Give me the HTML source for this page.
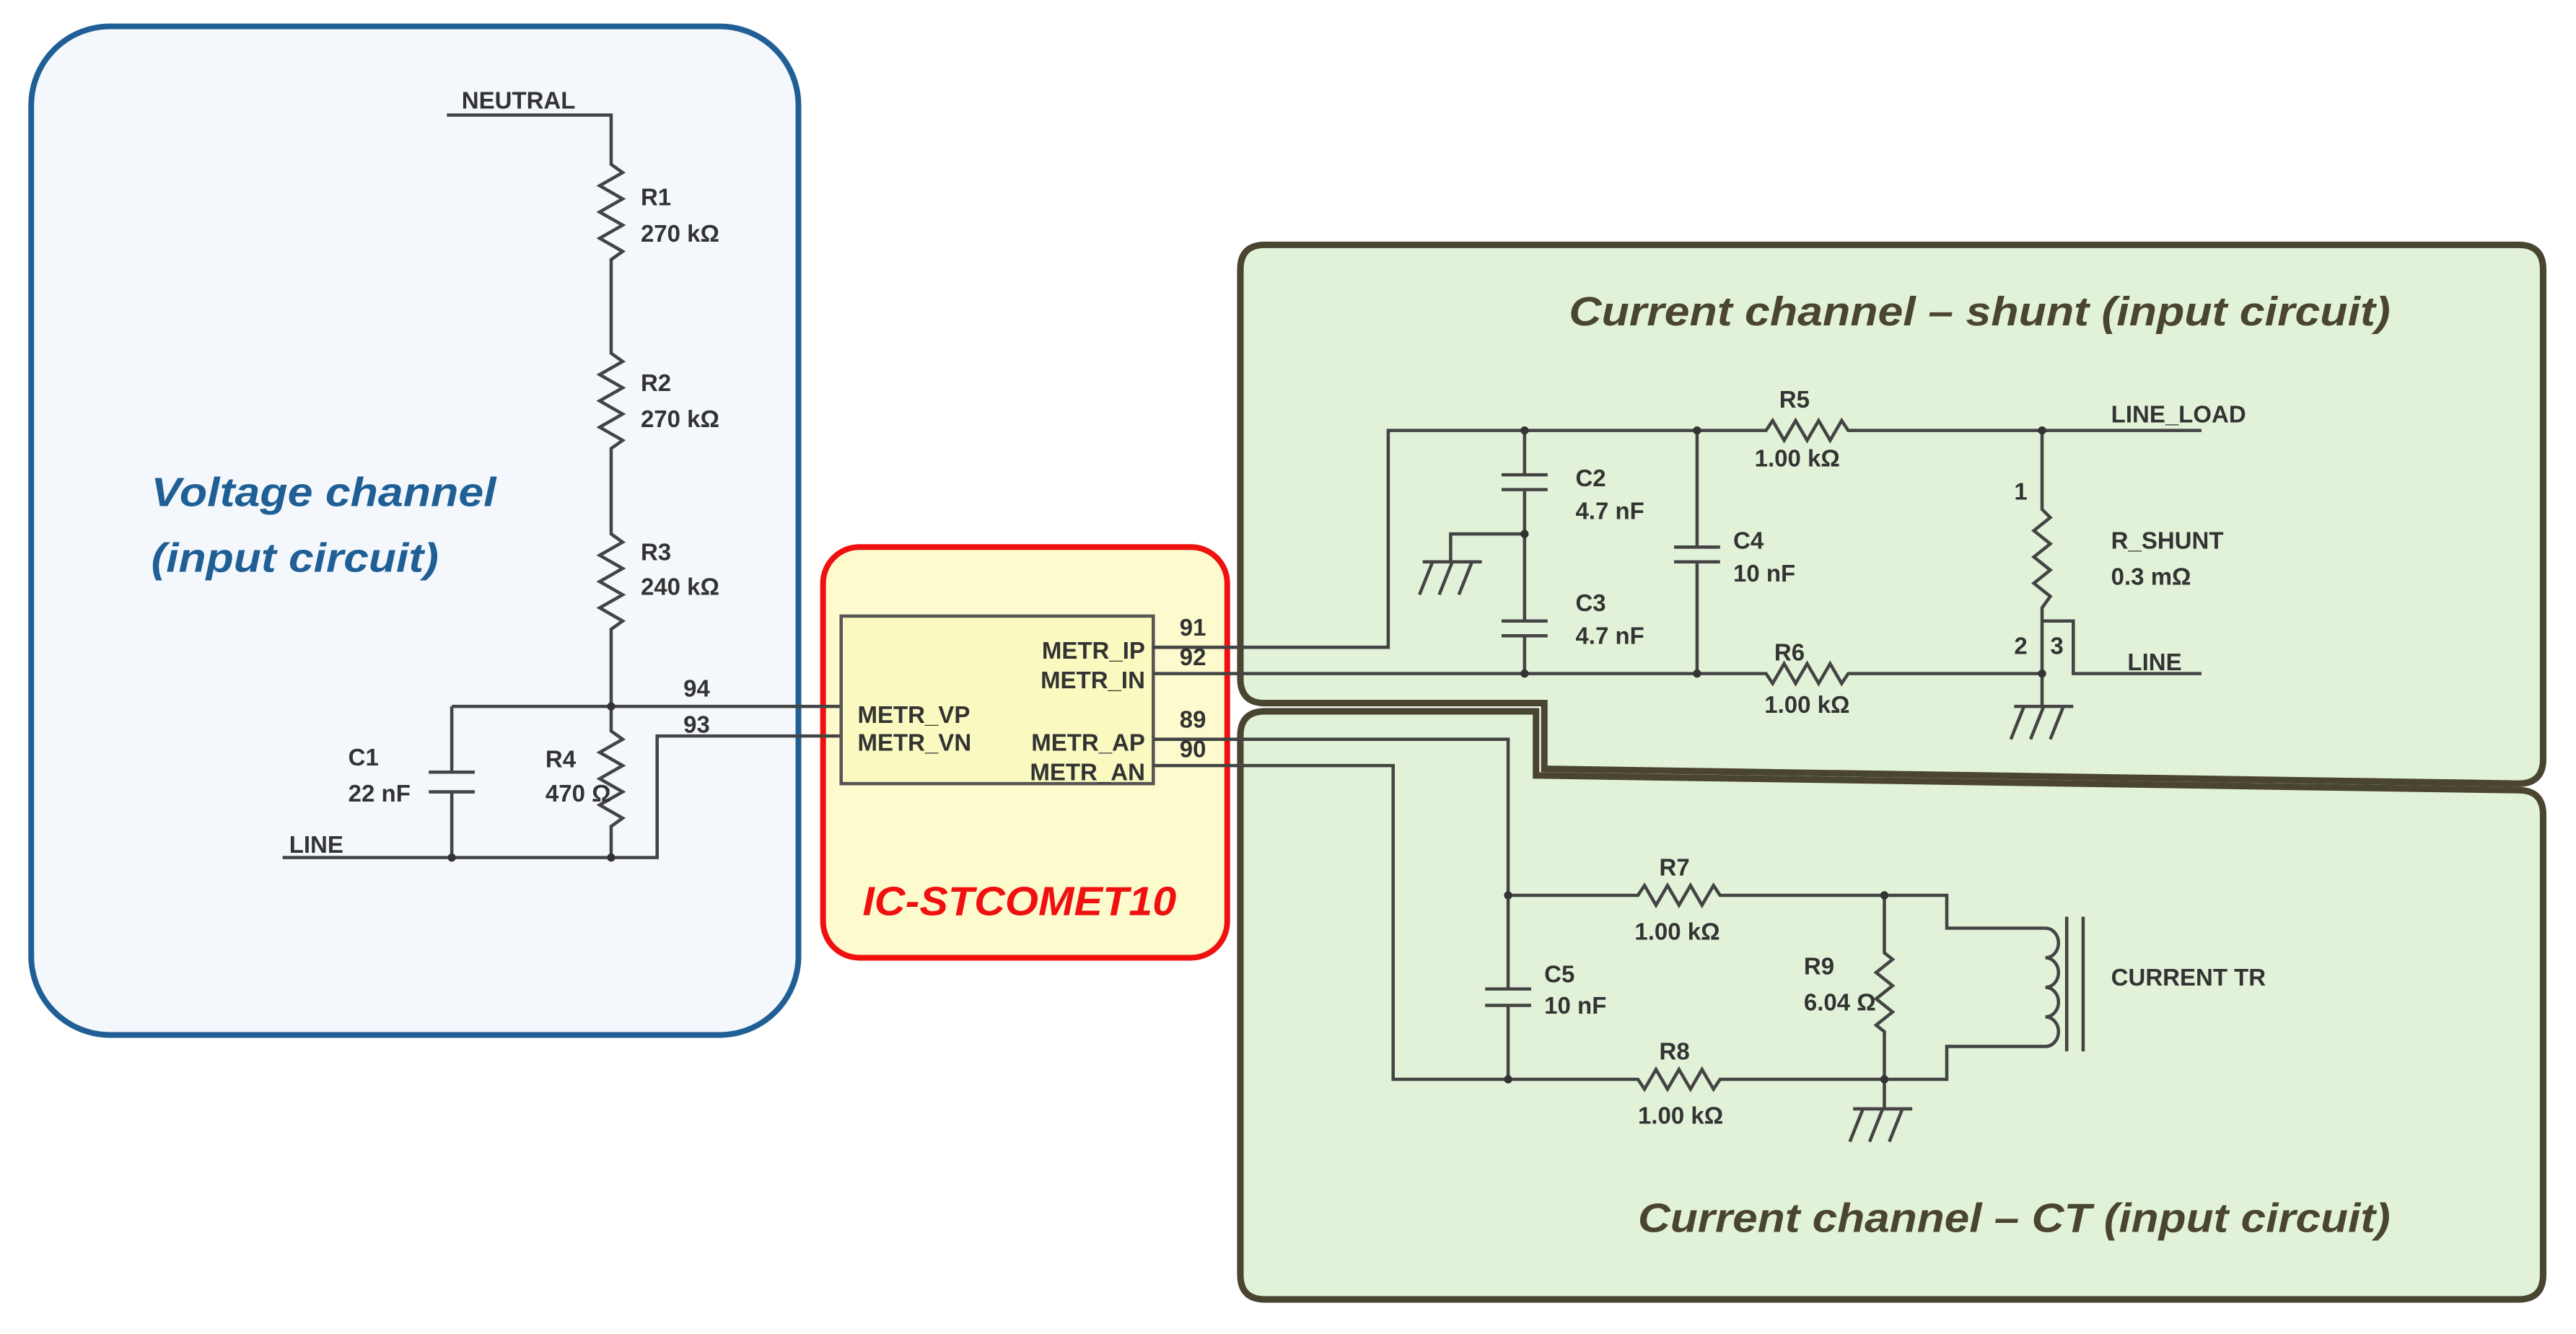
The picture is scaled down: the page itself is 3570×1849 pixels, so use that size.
<!DOCTYPE html>
<html><head><meta charset="utf-8"><style>
html,body{margin:0;padding:0;background:#fff;}
svg{display:block;}
text{font-family:"Liberation Sans",Arial,sans-serif;}
.l{font-size:14.5px;fill:#333;font-weight:bold;}
.t{font-family:"Liberation Sans",sans-serif;font-style:italic;font-weight:bold;font-size:25px;}
</style></head><body>
<svg width="3570" height="1849" viewBox="0 0 1568 812" xmlns="http://www.w3.org/2000/svg">
<!-- boxes -->
<rect x="19" y="16" width="467" height="614" rx="48" fill="#f4f8fc" stroke="#1f5f96" stroke-width="3.5"/>
<rect x="501" y="333" width="246" height="250" rx="22" fill="#fdfbcd" stroke="#f01010" stroke-width="3.5"/>
<path d="M770,149 H1533 Q1548,149 1548,164 V462 Q1548,477 1533,477 L940,468 V428 H770 Q755,428 755,413 V164 Q755,149 770,149 Z" fill="#e2f2d8" stroke="#4a4530" stroke-width="4"/>
<path d="M770,433 H935 V472 L1533,481 Q1548,481 1548,496 V776 Q1548,791 1533,791 H770 Q755,791 755,776 V448 Q755,433 770,433 Z" fill="#e2f2d8" stroke="#4a4530" stroke-width="4"/>
<!-- titles -->
<text class="t" x="92" y="308" fill="#1f5f96" textLength="210" lengthAdjust="spacingAndGlyphs">Voltage channel</text>
<text class="t" x="92" y="348" fill="#1f5f96" textLength="175" lengthAdjust="spacingAndGlyphs">(input circuit)</text>
<text class="t" x="525" y="557" fill="#f01010" textLength="191" lengthAdjust="spacingAndGlyphs">IC-STCOMET10</text>
<text class="t" x="955" y="198" fill="#4a4530" textLength="500" lengthAdjust="spacingAndGlyphs">Current channel – shunt  (input circuit)</text>
<text class="t" x="997" y="750" fill="#4a4530" textLength="458" lengthAdjust="spacingAndGlyphs">Current channel – CT  (input circuit)</text>

<g stroke="#444" stroke-width="2" fill="none">
<!-- voltage -->
<path d="M272,70 H372 V100 l7,5 -14,8 14,8 -14,8 14,8 -14,8 14,8 -7,5 V215 l7,5 -14,8 14,8 -14,8 14,8 -14,8 14,8 -7,5 V325 l7,5 -14,8 14,8 -14,8 14,8 -14,8 14,8 -7,5 V445 l7,5 -14,8 14,8 -14,8 14,8 -14,8 14,8 -7,5 V522"/>
<path d="M172,522 H400 V448 H512"/>
<path d="M275,430 H512"/>
<path d="M275,430 V470 M275,482 V522 M261,470 H289 M261,482 H289"/>
<!-- IC -->
<rect x="512" y="375" width="190" height="102" fill="#fafac0" stroke="#555"/>
<!-- shunt -->
<path d="M702,394 H845 V262 H1075 l4,-6 7,12 7,-12 7,12 7,-12 7,12 7,-12 4,6 H1340"/>
<path d="M702,410 H1075 l4,6 7,-12 7,12 7,-12 7,12 7,-12 7,12 4,-6 H1243"/>
<path d="M928,262 V289 M928,298 V378 M928,387 V410 M914,289 H942 M914,298 H942 M914,378 H942 M914,387 H942"/>
<path d="M928,325 H883 V342"/>
<path d="M866,342 H902 M872,342 L864,362 M884,342 L876,362 M896,342 L888,362"/>
<path d="M1033,262 V333 M1033,342 V410 M1019,333 H1047 M1019,342 H1047"/>
<path d="M1243,262 V310 l5,5 -10,8 10,8 -10,8 10,8 -10,8 10,8 -5,7 V430 M1243,378 H1262 V410 H1340"/>
<path d="M1226,430 H1262 M1232,430 L1224,450 M1244,430 L1236,450 M1256,430 L1248,450"/>
<!-- CT -->
<path d="M702,450 H918 V602 M918,612 V657 M904,602 H932 M904,612 H932"/>
<path d="M702,466 H848 V657 H997 l4,6 7,-12 7,12 7,-12 7,12 7,-12 7,12 4,-6 H1185 V637 H1245"/>
<path d="M918,545 H997 l4,-6 7,12 7,-12 7,12 7,-12 7,12 7,-12 4,6 H1185 V565 H1245"/>
<path d="M1147,545 V580 l5,4 -10,8 10,8 -10,8 10,8 -10,8 5,4 V675"/>
<path d="M1245,565 a8,9 0 0 1 0,18 a8,9 0 0 1 0,18 a8,9 0 0 1 0,18 a8,9 0 0 1 0,18"/>
<path d="M1258,558 V640 M1268,558 V640"/>
<path d="M1128,675 H1164 M1134,675 L1126,695 M1146,675 L1138,695 M1158,675 L1150,695"/>
</g>
<g fill="#333">
<circle cx="372" cy="430" r="2.5"/><circle cx="372" cy="522" r="2.5"/><circle cx="275" cy="522" r="2.5"/>
<circle cx="928" cy="262" r="2.5"/><circle cx="1033" cy="262" r="2.5"/><circle cx="1243" cy="262" r="2.5"/>
<circle cx="928" cy="410" r="2.5"/><circle cx="1033" cy="410" r="2.5"/><circle cx="1243" cy="410" r="2.5"/><circle cx="928" cy="325" r="2.5"/>
<circle cx="918" cy="545" r="2.5"/><circle cx="918" cy="657" r="2.5"/><circle cx="1147" cy="545" r="2.5"/><circle cx="1147" cy="657" r="2.5"/>
</g>
<!-- labels -->
<g class="l">
<text x="281" y="66">NEUTRAL</text>
<text x="390" y="125">R1</text><text x="390" y="147">270 kΩ</text>
<text x="390" y="238">R2</text><text x="390" y="260">270 kΩ</text>
<text x="390" y="341">R3</text><text x="390" y="362">240 kΩ</text>
<text x="332" y="467">R4</text><text x="332" y="488">470 Ω</text>
<text x="212" y="466">C1</text><text x="212" y="488">22 nF</text>
<text x="176" y="519">LINE</text>
<text x="416" y="424">94</text><text x="416" y="446">93</text>
<text x="522" y="440">METR_VP</text><text x="522" y="457">METR_VN</text>
<text x="697" y="401" text-anchor="end">METR_IP</text><text x="697" y="419" text-anchor="end">METR_IN</text>
<text x="697" y="457" text-anchor="end">METR_AP</text><text x="697" y="475" text-anchor="end">METR_AN</text>
<text x="718" y="387">91</text><text x="718" y="405">92</text><text x="718" y="443">89</text><text x="718" y="461">90</text>
<text x="1083" y="248">R5</text><text x="1068" y="284">1.00 kΩ</text>
<text x="1285" y="257">LINE_LOAD</text>
<text x="959" y="296">C2</text><text x="959" y="316">4.7 nF</text>
<text x="959" y="372">C3</text><text x="959" y="392">4.7 nF</text>
<text x="1055" y="334">C4</text><text x="1055" y="354">10 nF</text>
<text x="1226" y="304">1</text>
<text x="1285" y="334">R_SHUNT</text><text x="1285" y="356">0.3 mΩ</text>
<text x="1226" y="398">2</text><text x="1248" y="398">3</text>
<text x="1295" y="408">LINE</text>
<text x="1080" y="402">R6</text><text x="1074" y="434">1.00 kΩ</text>
<text x="1010" y="533">R7</text><text x="995" y="572">1.00 kΩ</text>
<text x="940" y="598">C5</text><text x="940" y="617">10 nF</text>
<text x="1098" y="593">R9</text><text x="1098" y="615">6.04 Ω</text>
<text x="1285" y="600">CURRENT TR</text>
<text x="1010" y="645">R8</text><text x="997" y="684">1.00 kΩ</text>
</g>
</svg>
</body></html>
